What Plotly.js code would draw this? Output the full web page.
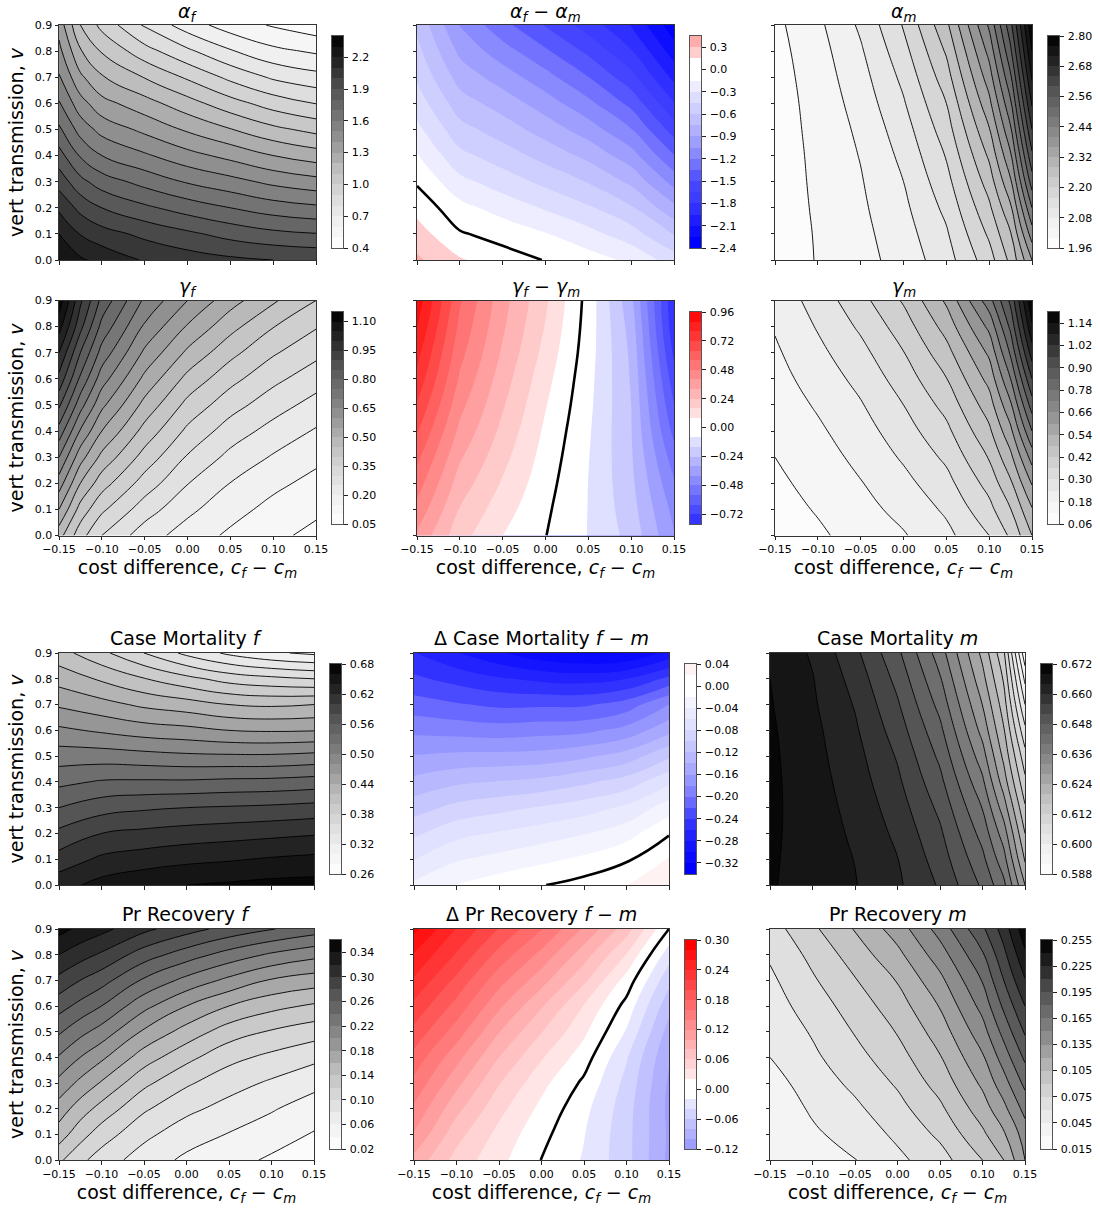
<!DOCTYPE html>
<html>
<head>
<meta charset="utf-8">
<script src="https://cdn.plot.ly/plotly-3.0.1.min.js"></script>
<style>html,body{margin:0;padding:0;background:#fff}#chart{width:1100px;height:1208px}</style>
</head>
<body>
<div id="chart"></div>
<script>
const costDiff = [-0.15, -0.10, -0.05, 0, 0.05, 0.10, 0.15];
const costDiffL = [-0.15, -0.125, -0.10, -0.05, 0, 0.05, 0.10, 0.15];
const costDiffR = [-0.15, -0.10, -0.05, 0, 0.05, 0.10, 0.125, 0.15];
const xTicks = [-0.15, -0.10, -0.05, 0, 0.05, 0.10, 0.15];
const vertTrans = [0, 0.1, 0.2, 0.3, 0.4, 0.5, 0.6, 0.7, 0.8, 0.9];

const alphaF = [
 [2.305,2.215,2.17,2.09,2.05,2.02,2.00,1.985],
 [2.20,2.095,2.04,1.975,1.92,1.865,1.825,1.804],
 [2.08,1.97,1.90,1.82,1.755,1.70,1.65,1.62],
 [1.96,1.83,1.75,1.665,1.59,1.535,1.475,1.435],
 [1.84,1.69,1.60,1.515,1.435,1.37,1.30,1.25],
 [1.72,1.56,1.465,1.375,1.285,1.205,1.125,1.07],
 [1.61,1.44,1.335,1.24,1.14,1.04,0.955,0.897],
 [1.51,1.32,1.21,1.095,0.985,0.875,0.785,0.735],
 [1.43,1.21,1.09,0.94,0.82,0.71,0.625,0.585],
 [1.36,1.10,0.97,0.785,0.65,0.55,0.49,0.44]];
const alphaDiff = [
 [0.325,0.168,0.064,-0.006,-0.083,-0.183,-0.375],
 [0.22,0.015,-0.054,-0.143,-0.25,-0.382,-0.616],
 [0.10,-0.10,-0.213,-0.316,-0.43,-0.582,-0.86],
 [-0.02,-0.257,-0.372,-0.49,-0.611,-0.784,-1.105],
 [-0.14,-0.409,-0.527,-0.655,-0.793,-0.987,-1.342],
 [-0.26,-0.547,-0.673,-0.817,-0.976,-1.192,-1.57],
 [-0.371,-0.68,-0.816,-0.976,-1.16,-1.394,-1.788],
 [-0.473,-0.809,-0.97,-1.145,-1.347,-1.596,-1.99],
 [-0.556,-0.934,-1.135,-1.326,-1.535,-1.788,-2.175],
 [-0.63,-1.061,-1.302,-1.513,-1.72,-1.957,-2.35]];
const alphaM = [
 [1.98,2.002,2.026,2.056,2.103,2.183,2.25,2.36],
 [1.98,2.003,2.029,2.063,2.115,2.207,2.277,2.42],
 [1.98,2.005,2.033,2.071,2.13,2.232,2.313,2.48],
 [1.98,2.007,2.037,2.08,2.146,2.259,2.354,2.54],
 [1.98,2.009,2.042,2.09,2.163,2.287,2.394,2.592],
 [1.98,2.012,2.048,2.102,2.181,2.317,2.434,2.64],
 [1.981,2.015,2.056,2.116,2.2,2.349,2.473,2.685],
 [1.983,2.019,2.065,2.13,2.222,2.381,2.513,2.725],
 [1.986,2.024,2.075,2.146,2.245,2.413,2.552,2.76],
 [1.99,2.031,2.087,2.163,2.27,2.447,2.588,2.79]];
const gammaF = [
 [0.47,0.37,0.30,0.224,0.177,0.141,0.112,0.086],
 [0.55,0.43,0.36,0.274,0.212,0.168,0.135,0.11],
 [0.625,0.50,0.422,0.328,0.252,0.199,0.162,0.135],
 [0.70,0.57,0.486,0.38,0.295,0.236,0.195,0.162],
 [0.78,0.645,0.55,0.432,0.339,0.276,0.232,0.195],
 [0.86,0.72,0.612,0.484,0.385,0.32,0.272,0.232],
 [0.935,0.79,0.673,0.537,0.435,0.366,0.313,0.272],
 [1.0,0.85,0.731,0.59,0.49,0.415,0.356,0.313],
 [1.07,0.915,0.784,0.642,0.545,0.467,0.402,0.354],
 [1.13,0.96,0.835,0.69,0.60,0.52,0.457,0.40]];
const gammaDiff = [
 [0.385,0.19,0.08,0.002,-0.083,-0.188,-0.394],
 [0.455,0.235,0.114,0.014,-0.082,-0.207,-0.425],
 [0.518,0.282,0.151,0.03,-0.081,-0.22,-0.47],
 [0.58,0.331,0.185,0.047,-0.076,-0.23,-0.523],
 [0.647,0.38,0.218,0.065,-0.069,-0.236,-0.585],
 [0.714,0.425,0.249,0.085,-0.06,-0.24,-0.638],
 [0.776,0.468,0.279,0.107,-0.052,-0.247,-0.688],
 [0.829,0.506,0.308,0.132,-0.043,-0.256,-0.737],
 [0.885,0.539,0.332,0.155,-0.036,-0.273,-0.776],
 [0.93,0.57,0.35,0.173,-0.03,-0.298,-0.79]];
const gammaM = [
 [0.085,0.11,0.144,0.175,0.224,0.30,0.37,0.48],
 [0.095,0.125,0.16,0.198,0.25,0.342,0.418,0.535],
 [0.107,0.14,0.177,0.222,0.28,0.382,0.47,0.605],
 [0.12,0.155,0.195,0.248,0.312,0.425,0.525,0.685],
 [0.133,0.17,0.214,0.274,0.345,0.468,0.585,0.78],
 [0.146,0.187,0.235,0.30,0.38,0.512,0.65,0.87],
 [0.159,0.205,0.258,0.328,0.418,0.56,0.72,0.96],
 [0.171,0.225,0.282,0.358,0.458,0.612,0.79,1.05],
 [0.185,0.245,0.31,0.39,0.503,0.675,0.855,1.13],
 [0.20,0.265,0.34,0.427,0.55,0.755,0.915,1.19]];
const mortF = [
 [0.632,0.647,0.655,0.66,0.663,0.666,0.667],
 [0.608,0.624,0.63,0.635,0.638,0.642,0.645],
 [0.585,0.60,0.605,0.609,0.612,0.615,0.618],
 [0.56,0.572,0.577,0.58,0.582,0.584,0.587],
 [0.535,0.542,0.543,0.543,0.545,0.546,0.549],
 [0.51,0.51,0.507,0.504,0.503,0.503,0.506],
 [0.484,0.477,0.47,0.466,0.46,0.458,0.459],
 [0.457,0.447,0.436,0.429,0.42,0.417,0.42],
 [0.432,0.417,0.401,0.386,0.372,0.365,0.36],
 [0.408,0.385,0.36,0.335,0.316,0.303,0.296]];
const mortDiff = [
 [-0.036,-0.019,-0.009,-0.001,0.008,0.019,0.039],
 [-0.061,-0.042,-0.034,-0.025,-0.016,-0.003,0.0215],
 [-0.084,-0.066,-0.058,-0.05,-0.041,-0.028,-0.002],
 [-0.109,-0.094,-0.086,-0.078,-0.069,-0.056,-0.03],
 [-0.134,-0.124,-0.119,-0.114,-0.104,-0.091,-0.064],
 [-0.159,-0.155,-0.154,-0.152,-0.144,-0.131,-0.1035],
 [-0.185,-0.188,-0.191,-0.188,-0.185,-0.173,-0.146],
 [-0.211,-0.218,-0.224,-0.2235,-0.223,-0.211,-0.18],
 [-0.236,-0.247,-0.2575,-0.265,-0.268,-0.26,-0.235],
 [-0.259,-0.2785,-0.297,-0.314,-0.322,-0.32,-0.293]];
const mortM = [
 [0.6684,0.6662,0.6642,0.6607,0.6555,0.6473,0.641,0.628],
 [0.6686,0.6661,0.6639,0.6601,0.6541,0.645,0.6375,0.6235],
 [0.6688,0.666,0.6634,0.6591,0.6527,0.6425,0.634,0.62],
 [0.6689,0.6659,0.6628,0.658,0.651,0.6398,0.63,0.6165],
 [0.6689,0.6657,0.6621,0.6568,0.6491,0.6368,0.626,0.613],
 [0.6688,0.6654,0.6614,0.6556,0.6471,0.6337,0.623,0.6095],
 [0.6686,0.6651,0.6606,0.6541,0.645,0.6306,0.6204,0.605],
 [0.6683,0.6646,0.6597,0.6525,0.6427,0.6279,0.618,0.60],
 [0.668,0.6642,0.6585,0.6508,0.6404,0.6253,0.6155,0.595],
 [0.6672,0.6635,0.657,0.6489,0.638,0.6229,0.6128,0.589]];
const recF = [
 [0.124,0.105,0.0905,0.0704,0.056,0.047,0.037,0.03],
 [0.15,0.128,0.11,0.085,0.069,0.059,0.049,0.0385],
 [0.171,0.15,0.133,0.103,0.085,0.073,0.062,0.05],
 [0.194,0.175,0.158,0.125,0.103,0.088,0.077,0.066],
 [0.218,0.20,0.184,0.15,0.126,0.106,0.095,0.085],
 [0.243,0.226,0.212,0.177,0.152,0.13,0.118,0.109],
 [0.268,0.254,0.24,0.206,0.18,0.16,0.146,0.137],
 [0.294,0.28,0.268,0.237,0.214,0.195,0.178,0.17],
 [0.32,0.308,0.297,0.27,0.25,0.232,0.217,0.206],
 [0.347,0.335,0.326,0.305,0.288,0.273,0.261,0.25]];
const recDiff = [
 [0.094,0.053,0.0259,-0.0005,-0.022,-0.053,-0.105],
 [0.118,0.0675,0.034,0.006,-0.019,-0.053,-0.1035],
 [0.136,0.086,0.046,0.015,-0.014,-0.051,-0.105],
 [0.155,0.106,0.0615,0.026,-0.004,-0.046,-0.103],
 [0.173,0.127,0.08,0.042,0.0095,-0.038,-0.098],
 [0.194,0.1505,0.101,0.061,0.024,-0.022,-0.088],
 [0.215,0.173,0.124,0.082,0.039,-0.007,-0.073],
 [0.237,0.195,0.148,0.108,0.064,0.012,-0.054],
 [0.258,0.218,0.173,0.134,0.089,0.039,-0.031],
 [0.285,0.239,0.199,0.161,0.117,0.069,0]];
const recM = [
 [0.03,0.0375,0.0445,0.0565,0.069,0.09,0.105,0.135],
 [0.032,0.0425,0.051,0.063,0.078,0.102,0.118,0.142],
 [0.035,0.047,0.057,0.07,0.087,0.113,0.131,0.155],
 [0.039,0.052,0.0635,0.077,0.096,0.123,0.144,0.169],
 [0.045,0.057,0.07,0.084,0.104,0.133,0.157,0.183],
 [0.049,0.0615,0.076,0.091,0.112,0.144,0.17,0.197],
 [0.053,0.067,0.082,0.098,0.121,0.155,0.183,0.21],
 [0.057,0.073,0.089,0.106,0.131,0.166,0.195,0.224],
 [0.062,0.079,0.097,0.116,0.143,0.178,0.206,0.237],
 [0.068,0.087,0.106,0.127,0.156,0.192,0.217,0.25]];

const W = 1100, H = 1208, FONT = 'DejaVu Sans';
const cf = '<i>c</i><sub><i>f</i></sub> \u2212 <i>c</i><sub><i>m</i></sub>';
const xLabel = 'cost difference, ' + cf;
const yLabel = 'vert transmission, <i>v</i>';

const rows = [
 {top: 25, bot: 260, cbTop: 36, cbBot: 248, tShift: 4},
 {top: 300.5, bot: 535.5, cbTop: 312, cbBot: 524, tShift: 3},
 {top: 653, bot: 885, cbTop: 664, cbBot: 874, tShift: 0},
 {top: 929, bot: 1160, cbTop: 940, cbBot: 1149, tShift: 0}];
const colsTop = [{l: 59, r: 316, cl: 332, cr: 343}, {l: 417, r: 674, cl: 690, cr: 701}, {l: 775, r: 1032, cl: 1048, cr: 1059}];
const colsBot = [{l: 59, r: 314, cl: 330, cr: 341}, {l: 414, r: 669, cl: 685, cr: 696}, {l: 770, r: 1025, cl: 1041, cr: 1052}];

const blueShapeA = [[0.075,0],[0.3,0.105],[0.6,0.215],[0.9,0.34],[1.2,0.5],[1.5,0.71],[1.8,0.78],[2.1,0.92],[2.325,1]];
const blueShapeB = [[0.01,0],[0.04,0.065],[0.08,0.14],[0.12,0.25],[0.16,0.37],[0.20,0.53],[0.24,0.77],[0.28,0.9],[0.33,1]];

const panels = [
 {z: alphaF, x: costDiffL, t: '<i>\u03b1</i><sub><i>f</i></sub>', L0: 0.4, Ln: 2.4, cs: 0.1, t0: 0.4, dt: 0.3, fmt: '.1f'},
 {z: alphaDiff, x: costDiff, t: '<i>\u03b1</i><sub><i>f</i></sub> \u2212 <i>\u03b1</i><sub><i>m</i></sub>', L0: -2.4, Ln: 0.45, cs: 0.15, t0: -2.4, dt: 0.3, fmt: '.1f', div: {blue: 2.325, red: 1.15, shape: blueShapeA}},
 {z: alphaM, x: costDiffR, t: '<i>\u03b1</i><sub><i>m</i></sub>', L0: 1.96, Ln: 2.80, cs: 0.04, t0: 1.96, dt: 0.12, fmt: '.2f'},
 {z: gammaF, x: costDiffL, t: '<i>\u03b3</i><sub><i>f</i></sub>', L0: 0.05, Ln: 1.15, cs: 0.05, t0: 0.05, dt: 0.15, fmt: '.2f'},
 {z: gammaDiff, x: costDiff, t: '<i>\u03b3</i><sub><i>f</i></sub> \u2212 <i>\u03b3</i><sub><i>m</i></sub>', L0: -0.80, Ln: 0.96, cs: 0.08, t0: -0.72, dt: 0.24, fmt: '.2f', div: {blue: 0.96, red: 0.96}},
 {z: gammaM, x: costDiffR, t: '<i>\u03b3</i><sub><i>m</i></sub>', L0: 0.06, Ln: 1.20, cs: 0.06, t0: 0.06, dt: 0.12, fmt: '.2f'},
 {z: mortF, x: costDiff, t: 'Case Mortality <i>f</i>', L0: 0.26, Ln: 0.68, cs: 0.02, t0: 0.26, dt: 0.06, fmt: '.2f'},
 {z: mortDiff, x: costDiff, t: '\u0394 Case Mortality <i>f</i> \u2212 <i>m</i>', L0: -0.34, Ln: 0.04, cs: 0.02, t0: -0.32, dt: 0.04, fmt: '.2f', div: {blue: 0.33, red: 0.6, shape: blueShapeB}},
 {z: mortM, x: costDiffR, t: 'Case Mortality <i>m</i>', L0: 0.588, Ln: 0.672, cs: 0.004, t0: 0.588, dt: 0.012, fmt: '.3f'},
 {z: recF, x: costDiffL, t: 'Pr Recovery <i>f</i>', L0: 0.02, Ln: 0.36, cs: 0.02, t0: 0.02, dt: 0.04, fmt: '.2f'},
 {z: recDiff, x: costDiff, t: '\u0394 Pr Recovery <i>f</i> \u2212 <i>m</i>', L0: -0.12, Ln: 0.30, cs: 0.02, t0: -0.12, dt: 0.06, fmt: '.2f', div: {blue: 0.29, red: 0.29}},
 {z: recM, x: costDiffR, t: 'Pr Recovery <i>m</i>', L0: 0.015, Ln: 0.255, cs: 0.015, t0: 0.015, dt: 0.03, fmt: '.3f'}
];

const greysAnchors = [[0,255],[0.125,240],[0.25,217],[0.375,189],[0.5,150],[0.625,115],[0.75,82],[0.875,37],[1,0]];
function grey(f) {
  for (let i = 1; i < greysAnchors.length; i++) {
    if (f <= greysAnchors[i][0]) {
      const a = greysAnchors[i-1], b = greysAnchors[i];
      const g = Math.round(a[1] + (b[1]-a[1]) * (f-a[0]) / (b[0]-a[0]));
      return `rgb(${g},${g},${g})`;
    }
  }
  return 'rgb(0,0,0)';
}
function lookup(table, v) {
  if (v <= table[0][0]) return table[0][1];
  for (let i = 1; i < table.length; i++) {
    if (v <= table[i][0]) {
      const a = table[i-1], b = table[i];
      return a[1] + (b[1]-a[1]) * (v-a[0]) / (b[0]-a[0]);
    }
  }
  return table[table.length-1][1];
}
function bandColor(p, m, frac) {
  if (!p.div) return grey(frac);
  if (Math.abs(m) <= p.cs/2 + 1e-9) return 'rgb(255,255,255)';
  let sat;
  if (m > 0) sat = m / p.div.red;
  else sat = p.div.shape ? lookup(p.div.shape, -m) : -m / p.div.blue;
  const c = Math.round(255 * (1 - Math.min(1, sat)));
  return m > 0 ? `rgb(255,${c},${c})` : `rgb(${c},${c},255)`;
}

const data = [], layout = {
  width: W, height: H, margin: {l: 0, r: 0, t: 0, b: 0, autoexpand: false},
  paper_bgcolor: '#fff', plot_bgcolor: '#fff', showlegend: false,
  font: {family: FONT, size: 11, color: '#000'}, annotations: []
};
const axisBase = {showgrid: false, zeroline: false, showline: true, mirror: true, linecolor: '#333', linewidth: 1,
  ticks: 'outside', ticklen: 3.5, tickwidth: 0.9, tickcolor: '#222', tickfont: {family: FONT, size: 11, color: '#000'}};

panels.forEach((p, k) => {
  const rowI = Math.floor(k / 3), colI = k % 3;
  const R = rows[rowI], C = (rowI < 2 ? colsTop : colsBot)[colI];
  const n = Math.round((p.Ln - p.L0) / p.cs);
  const mids = [], scale = [];
  for (let i = 0; i < n; i++) {
    const m = p.L0 + (i + 0.5) * p.cs;
    mids.push(m);
    scale.push([i / (n - 1), bandColor(p, m, (i + 0.5) / n)]);
  }
  const a = 2 * k + 1, b = 2 * k + 2;
  const xa = 'x' + (a === 1 ? '' : a), ya = 'y' + (a === 1 ? '' : a);
  const xb = 'x' + b, yb = 'y' + b;
  const contours = {start: p.L0 + p.cs, end: p.Ln - p.cs, size: p.cs};

  data.push({type: 'contour', x: p.x, y: vertTrans, z: p.z, xaxis: xa, yaxis: ya,
    autocontour: false, colorscale: scale, showscale: false, hoverinfo: 'skip',
    contours: Object.assign({coloring: 'fill', showlines: false}, contours),
    line: {width: 0, smoothing: 1.3}});
  if (p.div) {
    data.push({type: 'contour', x: p.x, y: vertTrans, z: p.z, xaxis: xa, yaxis: ya,
      autocontour: false, showscale: false, hoverinfo: 'skip',
      contours: {coloring: 'none', showlines: true, start: 0, end: 0, size: 1},
      line: {color: '#000', width: 2.6, smoothing: 1.3}});
  } else {
    data.push({type: 'contour', x: p.x, y: vertTrans, z: p.z, xaxis: xa, yaxis: ya,
      autocontour: false, showscale: false, hoverinfo: 'skip',
      contours: Object.assign({coloring: 'none', showlines: true}, contours),
      line: {color: '#000', width: 0.9, smoothing: 1.3}});
  }
  data.push({type: 'heatmap', x: [0], y: mids, z: mids.map(m => [m]), xaxis: xb, yaxis: yb,
    colorscale: scale, zmin: mids[0], zmax: mids[n-1], showscale: false, hoverinfo: 'skip', zsmooth: false});

  const xName = 'xaxis' + (a === 1 ? '' : a), yName = 'yaxis' + (a === 1 ? '' : a);
  layout[xName] = Object.assign({}, axisBase, {
    domain: [C.l / W, C.r / W], range: [-0.15, 0.15], anchor: ya,
    tickvals: xTicks, tickformat: '.2f', showticklabels: rowI % 2 === 1,
    title: rowI % 2 === 1 ? {text: xLabel, font: {family: FONT, size: 19, color: '#000'}, standoff: 5} : undefined});
  layout[yName] = Object.assign({}, axisBase, {
    domain: [1 - R.bot / H, 1 - R.top / H], range: [0, 0.9], anchor: xa,
    tickvals: vertTrans, tickformat: '.1f', showticklabels: colI === 0,
    title: colI === 0 ? {text: yLabel, font: {family: FONT, size: 19, color: '#000'}, standoff: 6} : undefined});
  layout['xaxis' + b] = {domain: [C.cl / W, C.cr / W], range: [-0.5, 0.5], anchor: yb, showgrid: false, zeroline: false,
    showticklabels: false, ticks: '', showline: true, mirror: true, linecolor: '#555', linewidth: 1};
  layout['yaxis' + b] = Object.assign({}, axisBase, {
    domain: [1 - R.cbBot / H, 1 - R.cbTop / H], range: [p.L0, p.Ln], anchor: xb, side: 'right',
    linecolor: '#555', tick0: p.t0, dtick: p.dt, tickmode: 'linear', tickformat: p.fmt, ticklabelstandoff: 2});
  layout.annotations.push({xref: 'paper', yref: 'paper', x: (C.l + C.r) / 2 / W, y: 1 - (R.top - 2 + R.tShift) / H,
    xanchor: 'center', yanchor: 'bottom', showarrow: false, text: p.t,
    font: {family: FONT, size: 19, color: '#000'}});
});

Plotly.newPlot('chart', data, layout, {displayModeBar: false, responsive: false});
</script>
</body>
</html>
